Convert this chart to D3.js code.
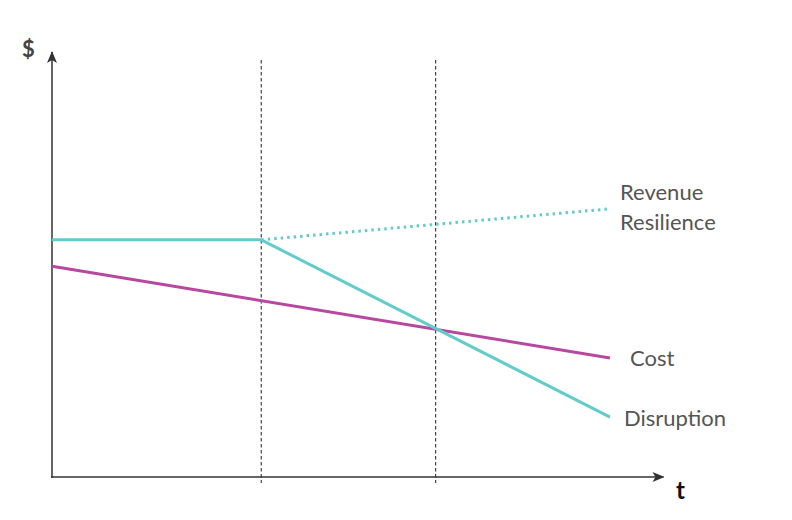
<!DOCTYPE html>
<html>
<head>
<meta charset="utf-8">
<script src="https://cdn.jsdelivr.net/npm/d3@7"></script>
<style>
  body { margin: 0; background: #fff; }
  text { font-family: Lato, "Open Sans", sans-serif; }
</style>
</head>
<body>
<svg width="792" height="520"></svg>
<script>
// Data
const phases = [4.5, 8.25];            // event markers on t axis
const revenueT = [0, 4.5];
const revenueV = [55.8, 55.8];
const resilienceT = [4.5, 12];
const resilienceV = [55.8, 63.1];
const disruptionT = [4.5, 12];
const disruptionV = [55.8, 14.1];
const costT = [0, 12];
const costV = [49.6, 28];
const labels = ["Revenue", "Resilience", "Cost", "Disruption"];

const svg = d3.select("svg");
const teal = "#62cbcb", magenta = "#b8489f", axisCol = "#333";

// Scales
const x = d3.scaleLinear().domain([0, 12]).range([52, 610]);
const y = d3.scaleLinear().domain([0, 100]).range([477, 52]);

// Arrow marker
svg.append("defs").append("marker")
    .attr("id", "arrow")
    .attr("viewBox", "0 0 12 10")
    .attr("refX", 11).attr("refY", 5)
    .attr("markerWidth", 12).attr("markerHeight", 10)
    .attr("markerUnits", "userSpaceOnUse")
    .attr("orient", "auto")
    .append("path")
    .attr("d", "M0,0 L12,5 L0,10 L3,5 Z")
    .attr("fill", axisCol);

// Dashed phase lines
svg.selectAll(".phase")
    .data(phases)
    .enter()
    .append("line")
    .attr("x1", d => x(d)).attr("x2", d => x(d))
    .attr("y1", 60).attr("y2", 483)
    .attr("stroke", "#444")
    .attr("stroke-width", 1.2)
    .attr("stroke-dasharray", "3.5,2.5");

// Axes
svg.append("line")
    .attr("x1", x(0)).attr("x2", x(0))
    .attr("y1", y(0) + 1).attr("y2", y(100))
    .attr("stroke", axisCol).attr("stroke-width", 1.5)
    .attr("marker-end", "url(#arrow)");
svg.append("line")
    .attr("x1", x(0) - 1).attr("x2", x(13.15))
    .attr("y1", y(0)).attr("y2", y(0))
    .attr("stroke", axisCol).attr("stroke-width", 1.5)
    .attr("marker-end", "url(#arrow)");

svg.append("text").attr("x", 22).attr("y", 57)
    .attr("font-size", 22).attr("font-weight", "bold").attr("fill", "#444").text("$");
svg.append("text").attr("x", 676).attr("y", 499)
    .attr("font-size", 24).attr("font-weight", "bold").attr("fill", "#111").text("t");

// Lines
const line = d3.line().x(d => x(d[0])).y(d => y(d[1]));
const series = [
    { t: costT, v: costV, color: magenta, dash: null },
    { t: revenueT, v: revenueV, color: teal, dash: null },
    { t: resilienceT, v: resilienceV, color: teal, dash: "2.5,4" },
    { t: disruptionT, v: disruptionV, color: teal, dash: null }
];
svg.selectAll(".series")
    .data(series)
    .enter()
    .append("path")
    .attr("d", d => line(d.t.map((t, i) => [t, d.v[i]])))
    .attr("fill", "none")
    .attr("stroke", d => d.color)
    .attr("stroke-width", 3)
    .attr("stroke-dasharray", d => d.dash);

// Labels
const lab = svg.append("g").attr("font-size", 22).attr("fill", "#555");
lab.append("text").attr("x", 620).attr("y", 200).text(labels[0]);
lab.append("text").attr("x", 620).attr("y", 230).text(labels[1]);
lab.append("text").attr("x", 630).attr("y", 366).text(labels[2]);
lab.append("text").attr("x", 624).attr("y", 426).text(labels[3]);
</script>
</body>
</html>
